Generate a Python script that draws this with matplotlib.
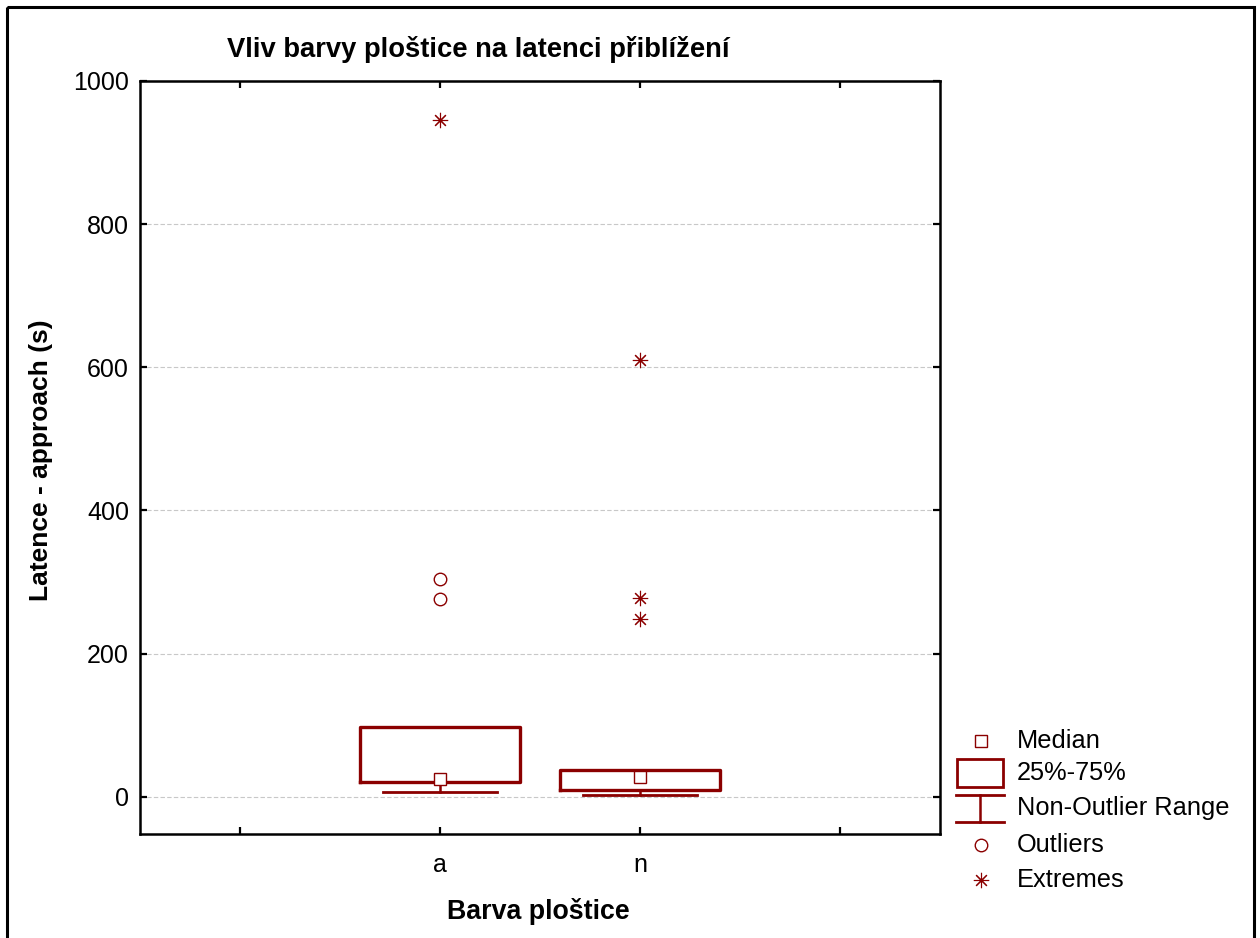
import matplotlib
matplotlib.use("Agg")
import matplotlib.pyplot as plt
from matplotlib.patches import Rectangle
from matplotlib.lines import Line2D

plt.rcParams['font.family'] = ['Liberation Sans', 'DejaVu Sans']

# Data
categories = ['a', 'n']
positions = [1, 2]
medians = [25, 28]
q1 = [21, 10]
q3 = [98, 37]
whisk_lo = [7, 3]
whisk_hi = [98, 37]
outliers = [[304, 277], []]
extremes = [[945], [610, 278, 248]]

RED = '#8b0000'
W, H = 1260, 938
fig = plt.figure(figsize=(W / 100, H / 100), dpi=100)

ax = fig.add_axes([140 / W, (H - 834) / H, 800 / W, 753 / H])

stats = []
for i in range(len(categories)):
    stats.append(dict(med=medians[i], q1=q1[i], q3=q3[i],
                      whislo=whisk_lo[i], whishi=whisk_hi[i], fliers=[]))
ax.bxp(stats, positions=positions, widths=0.8, capwidths=0.57,
       showfliers=False, patch_artist=False,
       boxprops=dict(color=RED, linewidth=2.4),
       whiskerprops=dict(color=RED, linewidth=1.8),
       capprops=dict(color=RED, linewidth=2.0),
       medianprops=dict(linestyle='none'))

# Median markers
ax.plot(positions, medians, linestyle='none', marker='s', markersize=9,
        markerfacecolor='white', markeredgecolor=RED, markeredgewidth=1.0,
        zorder=5)
# Outliers and extremes
for p, vals in zip(positions, outliers):
    if vals:
        ax.plot([p] * len(vals), vals, linestyle='none', marker='o',
                markersize=9, markerfacecolor='none', markeredgecolor=RED,
                markeredgewidth=1.0, zorder=5)
for p, vals in zip(positions, extremes):
    if vals:
        ax.plot([p] * len(vals), vals, linestyle='none', marker=(8, 2, 0),
                markersize=11, color=RED, markeredgewidth=0.8, zorder=5)

ax.set_xlim(-0.5, 3.5)
ax.set_ylim(-52, 1000)
ax.set_xticks([0, 1, 2, 3])
ax.set_xticklabels([''] + categories + [''])
ax.set_yticks([0, 200, 400, 600, 800, 1000])
ax.tick_params(axis='both', direction='in', length=5, width=1.6,
               labelsize=18, top=True, right=True, pad=8)
ax.tick_params(axis='x', pad=14)
for s in ax.spines.values():
    s.set_linewidth(1.8)
ax.yaxis.grid(True, linestyle=(0, (4, 2)), color='#c8c8c8', linewidth=0.8)
ax.set_axisbelow(True)

fig.text(478 / W, 1 - 57 / H, 'Vliv barvy ploštice na latenci přiblížení',
         ha='center', va='baseline', fontsize=19.7, fontweight='bold')
fig.text(538 / W, 1 - 919 / H, 'Barva ploštice', ha='center',
         va='baseline', fontsize=19.3, fontweight='bold')
fig.text(41 / W, 1 - 460 / H, 'Latence - approach (s)', ha='center',
         va='center', rotation=90, fontsize=19, fontweight='bold')

# Overlay in pixel coordinates for legend and frame
lax = fig.add_axes([0, 0, 1, 1], zorder=-1)
lax.set_xlim(0, W)
lax.set_ylim(H, 0)
lax.axis('off')
lax.add_patch(Rectangle((7, 7), 1247, 960, fill=False, edgecolor='black',
                        linewidth=2.2, clip_on=False))

lx = 981
lax.plot([lx], [741], marker='s', markersize=8, markerfacecolor='white',
         markeredgecolor=RED, markeredgewidth=1.0)
lax.add_patch(Rectangle((957, 759), 46, 28, fill=False, edgecolor=RED,
                        linewidth=2.0))
lax.add_line(Line2D([956, 1004], [795, 795], color=RED, linewidth=2.0))
lax.add_line(Line2D([980, 980], [795, 822], color=RED, linewidth=1.8))
lax.add_line(Line2D([956, 1004], [822, 822], color=RED, linewidth=2.0))
lax.plot([lx], [845], marker='o', markersize=9, markerfacecolor='none',
         markeredgecolor=RED, markeredgewidth=1.0)
lax.plot([lx], [880], marker=(8, 2, 0), markersize=11, color=RED,
         markeredgewidth=0.8)
for y, t in zip([741, 773, 808, 845, 880],
                ['Median', '25%-75%', 'Non-Outlier Range', 'Outliers',
                 'Extremes']):
    lax.text(1017, y, t, ha='left', va='center', fontsize=18.3)

fig.savefig('out.png', dpi=100)
